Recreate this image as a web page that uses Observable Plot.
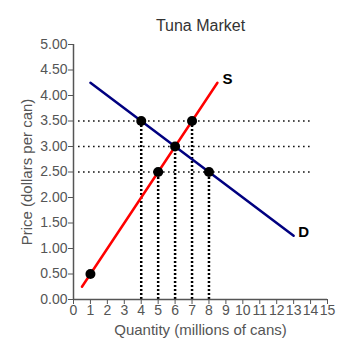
<!DOCTYPE html>
<html>
<head>
<meta charset="utf-8">
<script src="https://cdn.jsdelivr.net/npm/d3@7"></script>
<script src="https://cdn.jsdelivr.net/npm/@observablehq/plot@0.6"></script>
<style>
  html, body { margin: 0; padding: 0; background: #fff; }
  svg { font-family: "Liberation Sans", Arial, sans-serif; }
</style>
</head>
<body>
<div id="chart"></div>
<script>
// Curve endpoints (quantity, price)
const supply = [{q: 0.5, p: 0.25}, {q: 8.5, p: 4.25}];
const demand = [{q: 1, p: 4.25}, {q: 13, p: 1.25}];
// Highlighted points
const points = [
  {q: 1, p: 0.5},
  {q: 4, p: 3.5},
  {q: 5, p: 2.5},
  {q: 6, p: 3.0},
  {q: 7, p: 3.5},
  {q: 8, p: 2.5}
];
// Dotted guide lines
const hPrices = [3.5, 3.0, 2.5];
const vGuides = [{q: 4, p: 3.5}, {q: 5, p: 2.5}, {q: 6, p: 3.0}, {q: 7, p: 3.5}, {q: 8, p: 2.5}];
const xTicks = d3.range(0, 16);
const yTicks = d3.range(0, 11).map(i => i * 0.5);
const curveLabels = [{q: 8.5, p: 4.25, t: "S"}, {q: 13, p: 1.25, t: "D"}];

const grey = "#555";
const plot = Plot.plot({
  width: 347,
  height: 364,
  marginLeft: 73,
  marginRight: 20,
  marginTop: 44,
  marginBottom: 65,
  style: {fontSize: "14px", color: grey, background: "#fff"},
  x: {domain: [0, 15], ticks: xTicks, label: null},
  y: {domain: [0, 5], ticks: yTicks, label: null, tickFormat: d3.format(".2f")},
  marks: [
    Plot.ruleY(hPrices, {x1: 0.3, x2: 14, y: d => d, stroke: "#000", strokeWidth: 1.5, strokeDasharray: "1.5,3.5"}),
    Plot.ruleX(vGuides, {x: "q", y1: 0, y2: "p", stroke: "#000", strokeWidth: 2.5, strokeDasharray: "2,2"}),
    Plot.line(supply, {x: "q", y: "p", stroke: "#ff0000", strokeWidth: 2.5}),
    Plot.line(demand, {x: "q", y: "p", stroke: "#000080", strokeWidth: 2.5}),
    Plot.dot(points, {x: "q", y: "p", r: 5, fill: "#000", stroke: "none"}),
    Plot.text(curveLabels, {x: "q", y: "p", text: "t", dx: 10, dy: -4, fontWeight: "bold", fontSize: 15, fill: "#000", textAnchor: "middle"}),
    Plot.axisX({ticks: xTicks, tickSize: 5, tickPadding: 1, stroke: grey, fill: grey, fontSize: 14, label: null}),
    Plot.axisY({ticks: yTicks, tickSize: 5, tickPadding: 1, stroke: grey, fill: grey, fontSize: 14, label: null, tickFormat: d3.format(".2f")}),
    Plot.ruleX([0], {stroke: grey, strokeWidth: 1.5}),
    Plot.ruleY([0], {stroke: grey, strokeWidth: 1.5}),
    Plot.text(["Tuna Market"], {frameAnchor: "top", lineAnchor: "middle", dy: -19, fontSize: 16, fill: "#333"}),
    Plot.text(["Quantity (millions of cans)"], {frameAnchor: "bottom", lineAnchor: "middle", dy: 31, fontSize: 15, fill: grey}),
    Plot.text(["Price (dollars per can)"], {frameAnchor: "left", dx: -46, rotate: -90, textAnchor: "middle", fontSize: 15, fill: grey})
  ]
});
document.getElementById("chart").appendChild(plot);
</script>
</body>
</html>
